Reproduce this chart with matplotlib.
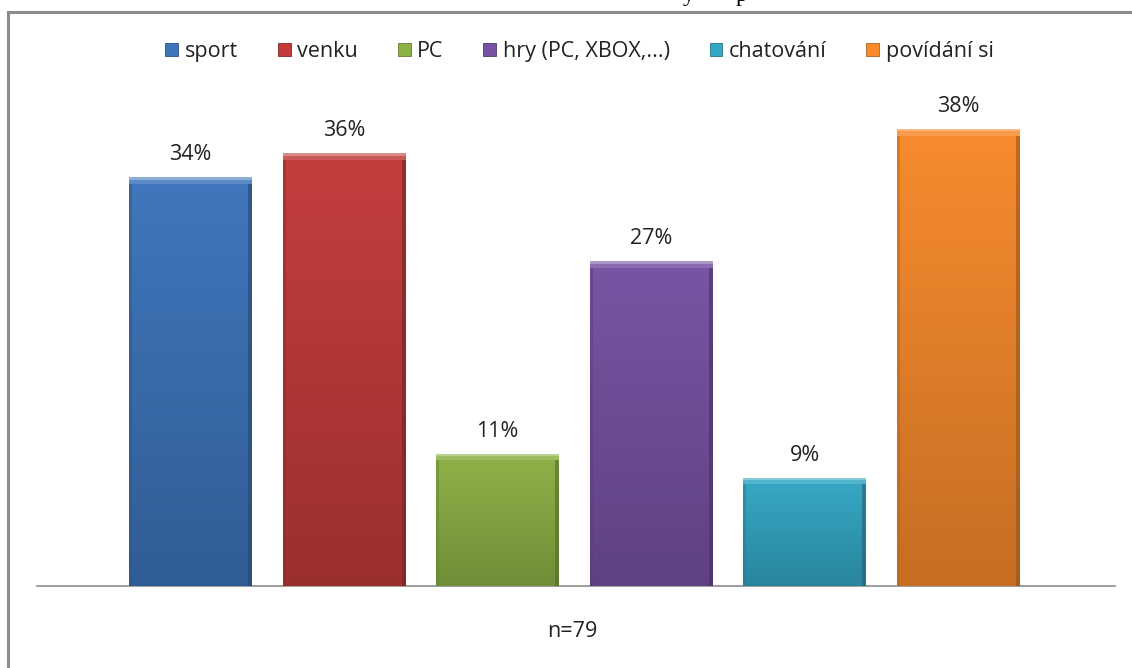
import numpy as np
import matplotlib.pyplot as plt
from matplotlib.patches import Patch
from matplotlib.lines import Line2D
from matplotlib.colors import to_rgb

plt.rcParams['font.family'] = ['Open Sans', 'DejaVu Sans']

categories = ['sport', 'venku', 'PC', 'hry (PC, XBOX,...)', 'chatování', 'povídání si']
values = [34, 36, 11, 27, 9, 38]
labels = ['34%', '36%', '11%', '27%', '9%', '38%']
colors = ['#3d74bb', '#c23b3a', '#8cb145', '#7652a2', '#33a7c4', '#f7892b']
note = 'n=79'


def shade(c, f):
    r = np.array(to_rgb(c))
    if f > 1:
        return tuple(r + (1 - r) * (f - 1))
    return tuple(r * f)


fig = plt.figure(figsize=(11.32, 6.68), dpi=100)
ax = fig.add_axes([0.0327, 0.1228, 0.9523, 0.72])

x = np.arange(len(values))
bars = ax.bar(x, values, width=0.8, color=colors, edgecolor='none', zorder=2)

# vertical gradient (lighter at top) + bevelled rim on each bar
for b, c in zip(bars, colors):
    x0, y0 = b.get_x(), b.get_y()
    w, h = b.get_width(), b.get_height()
    grad = np.linspace(0, 1, 256)
    top, bot = np.array(shade(c, 1.02)), np.array(shade(c, 0.8))
    img = (top[None, :] + (bot - top)[None, :] * grad[:, None]).reshape(256, 1, 3)
    im = ax.imshow(img, extent=[x0, x0 + w, y0, y0 + h], origin='upper',
                   aspect='auto', zorder=3)
    im.set_clip_path(b)
    # darker sides
    ax.bar(x0 + 0.01, h, width=0.02, bottom=y0, color=shade(c, 0.75), alpha=0.5, zorder=4)
    ax.bar(x0 + w - 0.013, h, width=0.026, bottom=y0, color=shade(c, 0.6), alpha=0.6, zorder=4)
    # lighter top edge
    ax.bar(x0 + w / 2, 0.55, width=w, bottom=y0 + h - 0.55, color=shade(c, 1.15), zorder=5)
    ax.bar(x0 + w / 2, 0.2, width=w, bottom=y0 + h - 0.2, color=shade(c, 1.4), zorder=6)

for xi, v, lab in zip(x, values, labels):
    ax.text(xi, v + 1.0, lab, ha='center', va='bottom', fontsize=15.5, color='#222222')

ax.set_xlim(-1.0, 6.02)
ax.set_ylim(0, 40)
ax.set_xticks([])
ax.set_yticks([])
for s in ['top', 'left', 'right']:
    ax.spines[s].set_visible(False)
ax.spines['bottom'].set_color('#8c8c8c')
ax.spines['bottom'].set_linewidth(1.2)

handles = [Patch(facecolor=c, edgecolor=shade(c, 0.7), linewidth=0.6) for c in colors]
fig.legend(handles, categories, loc='center', bbox_to_anchor=(0.512, 0.923), ncol=6,
           frameon=False, fontsize=15.5, handlelength=0.6, handleheight=0.6,
           handletextpad=0.3, columnspacing=1.85, labelcolor='#222222')

fig.text(0.506, 0.054, note, ha='center', va='center', fontsize=15.5, color='#222222')

# chart frame
fig.add_artist(Line2D([8 / 1132, 8 / 1132], [0, 1 - 12 / 668], color='#8c8c8c', lw=2.2))
fig.add_artist(Line2D([8 / 1132, 1], [1 - 12 / 668, 1 - 12 / 668], color='#8c8c8c', lw=2.2))

# tail of the heading above the frame
fig.text(683 / 1132, 1 - 1 / 668, 'y', family='Liberation Serif', fontsize=17, va='baseline')
fig.text(736 / 1132, 1 - 1 / 668, 'p', family='Liberation Serif', fontsize=17, va='baseline')

fig.savefig('out.png', dpi=100, facecolor='white')
